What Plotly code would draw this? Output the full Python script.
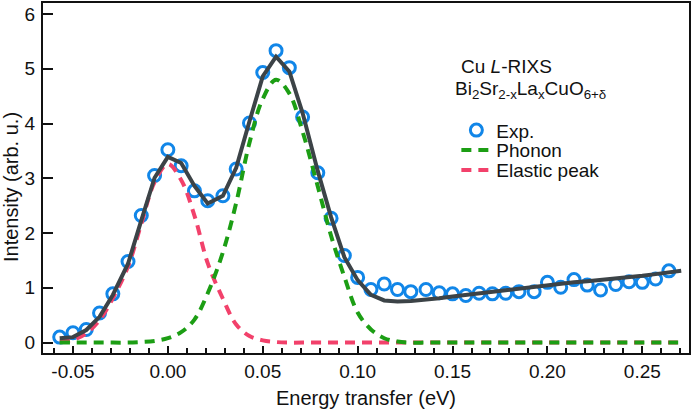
import plotly.graph_objects as go

# Experimental data (energy transfer in eV, intensity arb. u.)
exp_x = [-0.057, -0.050, -0.043, -0.036, -0.029, -0.021, -0.014, -0.007, 0.000, 0.007,
         0.014, 0.021, 0.029, 0.036, 0.043, 0.050, 0.057, 0.064, 0.071, 0.079,
         0.086, 0.093, 0.100, 0.107, 0.114, 0.121, 0.128, 0.136, 0.143, 0.150,
         0.157, 0.164, 0.171, 0.178, 0.185, 0.193, 0.200, 0.207, 0.214, 0.221,
         0.228, 0.236, 0.243, 0.250, 0.257, 0.264]
exp_y = [0.10, 0.18, 0.24, 0.54, 0.89, 1.48, 2.32, 3.05, 3.52, 3.23,
         2.77, 2.59, 2.68, 3.17, 4.01, 4.93, 5.33, 5.02, 4.12, 3.10,
         2.27, 1.59, 1.19, 0.97, 1.07, 0.97, 0.93, 0.97, 0.91, 0.89,
         0.86, 0.90, 0.89, 0.90, 0.93, 0.93, 1.10, 1.01, 1.15, 1.05,
         0.96, 1.06, 1.11, 1.10, 1.16, 1.31]

# Model curves (sampled at the same energies plus the end of the fit range)
model_x = exp_x + [0.2705]
fit_y = [0.08, 0.10, 0.23, 0.47, 0.87, 1.44, 2.23, 3.01, 3.39, 3.28,
         2.86, 2.54, 2.68, 3.19, 4.04, 4.86, 5.22, 4.95, 4.19, 3.13,
         2.29, 1.56, 1.14, 0.87, 0.77, 0.75, 0.76, 0.78, 0.81, 0.84,
         0.87, 0.90, 0.93, 0.96, 0.99, 1.02, 1.05, 1.07, 1.10, 1.12,
         1.14, 1.17, 1.20, 1.22, 1.25, 1.28, 1.31]
phonon_y = [0.00, 0.00, 0.00, 0.00, 0.00, 0.00, 0.01, 0.03, 0.08, 0.19,
            0.42, 0.90, 1.65, 2.55, 3.65, 4.45, 4.80, 4.55, 3.85, 2.85,
            1.95, 1.20, 0.55, 0.24, 0.08, 0.02, 0.00, 0.00, 0.00, 0.00,
            0.00, 0.00, 0.00, 0.00, 0.00, 0.00, 0.00, 0.00, 0.00, 0.00,
            0.00, 0.00, 0.00, 0.00, 0.00, 0.00, 0.00]
elastic_y = [0.02, 0.05, 0.17, 0.41, 0.81, 1.39, 2.17, 2.93, 3.26, 2.97,
             2.32, 1.45, 0.80, 0.33, 0.12, 0.04, 0.01, 0.00, 0.00, 0.00,
             0.00, 0.00, 0.00, 0.00, 0.00, 0.00, 0.00, 0.00, 0.00, 0.00,
             0.00, 0.00, 0.00, 0.00, 0.00, 0.00, 0.00, 0.00, 0.00, 0.00,
             0.00, 0.00, 0.00, 0.00, 0.00, 0.00, 0.00]

x_ticks = [-0.05, 0.00, 0.05, 0.10, 0.15, 0.20, 0.25]
x_ticklabels = ["-0.05", "0.00", "0.05", "0.10", "0.15", "0.20", "0.25"]
y_ticks = [0, 1, 2, 3, 4, 5, 6]

FONT = "Liberation Sans, Arial, Helvetica, sans-serif"
BLUE = "#1186e8"
GREEN = "#1c9e14"
RED = "#f2416b"
GRAY = "#3c4347"

fig = go.Figure()
fig.add_trace(go.Scatter(
    x=exp_x, y=exp_y, mode="markers", name="Exp.", legend="legend",
    marker=dict(symbol="circle-open", size=12, color=BLUE, line=dict(width=3, color=BLUE)),
))
fig.add_trace(go.Scatter(
    x=model_x, y=elastic_y, mode="lines", name="Elastic peak", legend="legend3",
    line=dict(color=RED, width=4, dash="10px,7px", shape="spline", smoothing=1),
))
fig.add_trace(go.Scatter(
    x=model_x, y=phonon_y, mode="lines", name="Phonon", legend="legend2",
    line=dict(color=GREEN, width=4, dash="10px,7px", shape="spline", smoothing=1),
))
fig.add_trace(go.Scatter(
    x=model_x, y=fit_y, mode="lines", name="Fit", showlegend=False,
    line=dict(color=GRAY, width=4),
))

L, R, T, B = 43, 2, 1, 57
W, H = 692, 410
pw, ph = W - L - R, H - T - B

def px_x(p):
    return (p - L) / pw

def px_y(p):
    return (H - B - p) / ph

leg_common = dict(x=px_x(457), xanchor="left", yanchor="middle",
                  bgcolor="rgba(0,0,0,0)", borderwidth=0,
                  font=dict(family=FONT, size=19, color="#111"))

fig.update_layout(
    width=W, height=H,
    margin=dict(l=L, r=R, t=T, b=B),
    paper_bgcolor="white", plot_bgcolor="white",
    font=dict(family=FONT, size=19, color="#111"),
    showlegend=True,
    legend=dict(y=px_y(129), **leg_common),
    legend2=dict(y=px_y(149), **leg_common),
    legend3=dict(y=px_y(169), **leg_common),
    xaxis=dict(
        range=[-0.0658, 0.2746], tickvals=x_ticks, ticktext=x_ticklabels,
        ticks="inside", ticklen=7, tickwidth=2, tickcolor="#111",
        minor=dict(dtick=0.01, tick0=0, ticks="inside", ticklen=5, tickwidth=2, tickcolor="#111"),
        showline=True, linewidth=2, linecolor="#111", mirror=True,
        showgrid=False, zeroline=False,
        tickfont=dict(family=FONT, size=19, color="#111"),
        title=dict(text="Energy transfer (eV)", font=dict(family=FONT, size=20, color="#111"), standoff=10),
    ),
    yaxis=dict(
        range=[-0.19, 6.2], tickvals=y_ticks,
        ticks="inside", ticklen=10, tickwidth=2, tickcolor="#111",
        showline=True, linewidth=2, linecolor="#111", mirror=True,
        showgrid=False, zeroline=False,
        tickfont=dict(family=FONT, size=19, color="#111"),
        ticklabelstandoff=2,
    ),
    annotations=[
        dict(text="Intensity (arb. u.)", textangle=-90, xref="paper", yref="paper",
             x=px_x(11), y=px_y(186), xanchor="center", yanchor="middle", showarrow=False,
             font=dict(family=FONT, size=20, color="#111")),
        dict(text="Cu <i>L</i>-RIXS", xref="paper", yref="paper",
             x=px_x(460), y=px_y(65), xanchor="left", yanchor="middle", showarrow=False,
             font=dict(family=FONT, size=19, color="#111")),
        dict(text="Bi<sub>2</sub>Sr<sub>2-x</sub>La<sub>x</sub>CuO<sub>6+δ</sub>", xref="paper", yref="paper",
             x=px_x(454), y=px_y(88), xanchor="left", yanchor="middle", showarrow=False,
             font=dict(family=FONT, size=19, color="#111")),
    ],
)

fig.write_html("out.html", config={"displayModeBar": False},
               post_script="document.body.style.margin='0';document.body.style.overflow='hidden';")
